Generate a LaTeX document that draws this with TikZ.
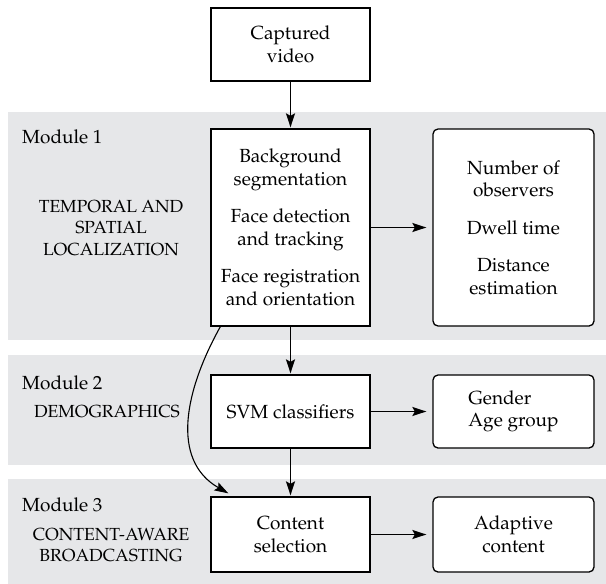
\documentclass[tikz,border=0pt]{standalone}
\usepackage[T1]{fontenc}
\renewcommand{\rmdefault}{ppl}
\usetikzlibrary{arrows.meta}
\definecolor{bandgray}{RGB}{230,231,233}
\tikzset{
  band/.style={fill=bandgray, draw=none},
  box/.style={draw=black, line width=1.3pt, fill=white, minimum width=159pt, align=center, inner sep=0pt, font=\fontsize{19}{22.5}\selectfont},
  rbox/.style={box, rounded corners=5pt, minimum width=161pt},
  modlabel/.style={anchor=west, inner sep=0pt, font=\fontsize{19}{22}\selectfont},
  caplabel/.style={align=center, inner sep=0pt, font=\fontsize{17.5}{21.5}\selectfont},
  arr/.style={line width=1.3pt, -{Stealth[length=14pt,width=9pt,inset=2.5pt]}},
}
\begin{document}
\begin{tikzpicture}[x=1pt,y=-1pt]
\useasboundingbox (0,0) rectangle (606,584);
\fill[white] (0,0) rectangle (606,584);
% bands
\fill[band] (8,112) rectangle (606,340);
\fill[band] (8,355) rectangle (606,465);
\fill[band] (8,479) rectangle (606,584);
% boxes
\node[box, minimum height=73pt] (cap) at (290.5,44.5) {Captured\\video};
\node[box, minimum height=197pt] (b1) at (290.5,227.5) {Background\\segmentation\\[15pt]Face detection\\and tracking\\[15pt]Face registration\\and orientation};
\node[rbox, minimum height=197pt] (r1) at (513.5,227.5) {Number of\\observers\\[15pt]Dwell time\\[15pt]Distance\\estimation};
\node[box, minimum height=73pt] (svm) at (290.5,411.5) {SVM classifiers};
\node[rbox, minimum height=73pt, align=left] (gen) at (513.5,411.5) {Gender\\Age group};
\node[box, minimum height=75pt] (cs) at (290.5,534.5) {Content\\selection};
\node[rbox, minimum height=75pt] (ac) at (513.5,534.5) {Adaptive\\content};
% labels
\node[modlabel] (m1) at (22,137) {Module 1};
\node[caplabel] (t1) at (111,228) {TEMPORAL AND\\SPATIAL\\LOCALIZATION};
\node[modlabel] (m2) at (22,383) {Module 2};
\node[caplabel] (t2) at (107,412) {DEMOGRAPHICS};
\node[modlabel] (m3) at (22,505) {Module 3};
\node[caplabel] (t3) at (111,545) {CONTENT-AWARE\\BROADCASTING};
% arrows
\draw[arr, shorten >=1pt] (cap) -- (b1);
\draw[arr, shorten >=1pt] (b1) -- (svm);
\draw[arr, shorten >=1pt] (svm) -- (cs);
\draw[arr, shorten >=6pt] (b1) -- (r1);
\draw[arr, shorten >=6pt] (svm) -- (gen);
\draw[arr, shorten >=6pt] (cs) -- (ac);
\coordinate (cstart) at ([xshift=10pt]b1.south west);
\coordinate (cend) at ([xshift=18pt,yshift=3pt]cs.north west);
\draw[arr, line width=1.1pt] (cstart) .. controls (185,390) and (170,460) .. (cend);
\end{tikzpicture}
\end{document}
